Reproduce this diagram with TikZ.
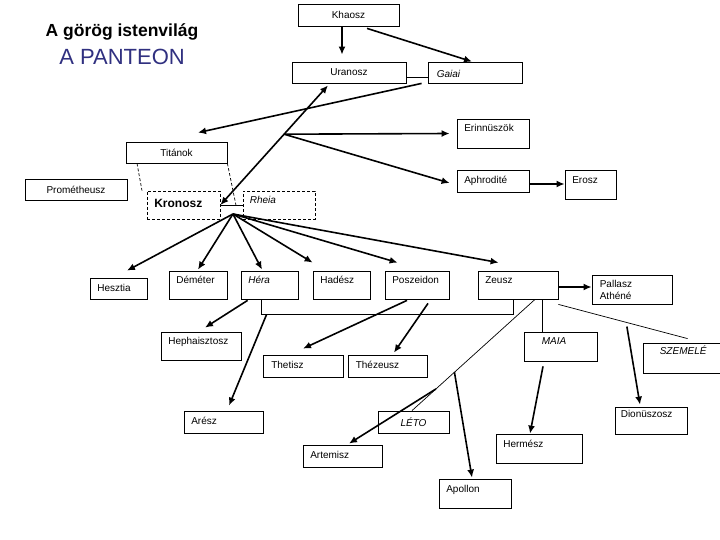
\documentclass[tikz,border=0pt]{standalone}
\usepackage{fontspec}
\setmainfont{Liberation Sans}
\usetikzlibrary{arrows.meta,calc}
\newcommand\fs{\fontsize{10}{12}\selectfont}
\definecolor{titleblue}{RGB}{48,48,128}
\tikzset{
  box/.style={draw, line width=0.8pt, inner sep=0pt, font=\fs},
  dbox/.style={box, dash pattern=on 3pt off 2pt},
  lbl/.style={font=\fs, inner xsep=7.5pt, inner ysep=6pt, text height=7pt, text depth=2pt},
  tl/.style={label={[lbl, anchor=north west]north west:#1}},
  ml/.style={label={[lbl, inner ysep=0pt, anchor=west]west:#1}},
  arr/.style={line width=1.6pt, -{Latex[length=8pt,width=7pt]}},
  arrtwo/.style={line width=1.6pt, {Latex[length=8pt,width=7pt]}-{Latex[length=8pt,width=7pt]}},
  thinline/.style={line width=0.7pt},
  dsh/.style={line width=0.7pt, dash pattern=on 3pt off 2pt},
}
\begin{document}
\begin{tikzpicture}[x=1pt,y=-1pt]
\useasboundingbox (0,0) rectangle (720,540);
% titles
\node[font=\fontsize{17.5}{20}\selectfont\bfseries] (title1) at (122,32) {A görög istenvilág};
\node[font=\fontsize{22}{24}\selectfont, text=titleblue] (title2) at (122,57) {A PANTEON};
% boxes
\node[box, minimum width=101, minimum height=22] (khaosz) at (348.5,15) {Khaosz};
\node[box, minimum width=114, minimum height=21] (uranosz) at (349,72.5) {Uranosz};
\node[box, minimum width=94, minimum height=21,
  label={[lbl, inner ysep=0pt, anchor=west, yshift=-3pt, xshift=1.5pt]west:\itshape Gaiai}] (gaiai) at (475,72.5) {};
\node[box, minimum width=72, minimum height=29, tl=Erinnüszök] (erinnuszok) at (493,133.5) {};
\node[box, minimum width=101, minimum height=21] (titanok) at (176.5,152.5) {Titánok};
\node[box, minimum width=102, minimum height=21] (prometheusz) at (76,189.5) {Prométheusz};
\node[dbox, minimum width=73, minimum height=28,
  label={[inner xsep=7.5pt, inner ysep=0pt, anchor=west, yshift=2pt, font=\fontsize{12}{14}\selectfont\bfseries]west:Kronosz}] (kronosz) at (183.5,205) {};
\node[dbox, minimum width=72, minimum height=28,
  label={[lbl, inner ysep=0pt, inner xsep=7pt, anchor=west, yshift=3.5pt]west:\itshape Rheia}] (rheia) at (279,205) {};
\node[box, minimum width=72, minimum height=22, ml=Aphrodité] (aphrodite) at (493,181) {};
\node[box, minimum width=51, minimum height=29,
  label={[lbl, inner ysep=0pt, anchor=west, yshift=3pt]west:Erosz}] (erosz) at (590.5,184.5) {};
\node[box, minimum width=57, minimum height=21, ml=Hesztia] (hesztia) at (118.5,288.5) {};
\node[box, minimum width=58, minimum height=28, tl=Déméter] (demeter) at (198,285) {};
\node[box, minimum width=57, minimum height=28, tl={\itshape Héra}] (hera) at (269.5,285) {};
\node[box, minimum width=57, minimum height=28, tl=Hadész] (hadesz) at (341.5,285) {};
\node[box, minimum width=64, minimum height=28, tl=Poszeidon] (poszeidon) at (417,285) {};
\node[box, minimum width=80, minimum height=28, tl=Zeusz] (zeusz) at (518,285) {};
\node[box, minimum width=80, minimum height=29,
  label={[font=\fs, align=left, anchor=north west, inner xsep=8pt, inner ysep=5pt]north west:Pallasz\\Athéné}] (pallasz) at (632,289.5) {};
\node[box, minimum width=80, minimum height=28, tl=Hephaisztosz] (hephaisztosz) at (201,346) {};
\node[box, minimum width=80, minimum height=22,
  label={[lbl, inner ysep=0pt, inner xsep=8.5pt, anchor=west]west:Thetisz}] (thetisz) at (303,366) {};
\node[box, minimum width=79, minimum height=22,
  label={[lbl, inner ysep=0pt, inner xsep=8pt, anchor=west]west:Thézeusz}] (thezeusz) at (387.5,366) {};
\node[box, minimum width=73, minimum height=29,
  label={[lbl, anchor=north, xshift=-6.5pt]north:\itshape MAIA}] (maia) at (560.5,346.5) {};
\node[box, minimum width=82, minimum height=30,
  label={[lbl, anchor=north west, inner xsep=17pt, inner ysep=5pt]north west:\itshape SZEMELÉ}] (szemele) at (684,358) {};
\node[box, minimum width=79, minimum height=22, ml=Arész] (ares) at (223.5,422) {};
\node[box, minimum width=71, minimum height=22, font=\fs\itshape] (leto) at (413.5,422) {LÉTO};
\node[box, minimum width=79, minimum height=22, ml=Artemisz] (artemisz) at (342.5,456) {};
\node[box, minimum width=86, minimum height=29,
  label={[lbl, anchor=north west, inner ysep=7pt]north west:Hermész}] (hermesz) at (539,448.5) {};
\node[box, minimum width=72, minimum height=29,
  label={[lbl, anchor=north west, inner ysep=7pt]north west:Apollon}] (apollon) at (475,493.5) {};
\node[box, minimum width=72, minimum height=27,
  label={[lbl, anchor=north west, inner xsep=6pt, inner ysep=4pt]north west:Dionüszosz}] (dionuszosz) at (651,420.5) {};
% connectors: top
\draw[arr] ([xshift=-6.5pt]khaosz.south) -- ([xshift=-7pt,yshift=7pt]uranosz.north);
\draw[arr] ([xshift=18.5pt,yshift=-2pt]khaosz.south) -- ([xshift=-3pt]gaiai.north);
\draw[thinline] ([yshift=-4.5pt]uranosz.east) -- ([yshift=-4.5pt]gaiai.west);
\draw[arr] ([xshift=-6pt]gaiai.south west) -- ([xshift=21.5pt,yshift=9pt]titanok.north);
\coordinate (ua) at ([xshift=-21pt,yshift=-2pt]uranosz.south);
\draw[arrtwo] (ua) -- (kronosz.east);
\coordinate (br) at ($(ua)!0.408!(kronosz.east)$);
\draw[arr] (br) -- ([xshift=-7pt]erinnuszok.west);
\draw[arr] (br) -- ([xshift=-7pt,yshift=-2pt]aphrodite.west);
\draw[arr] ([yshift=-3pt]aphrodite.east) -- ([yshift=-3pt]aphrodite.east -| erosz.west);
% Kronosz - Rheia
\draw[thinline] (kronosz.east) -- (rheia.west);
\coordinate (kr) at ($(kronosz.east)!0.7!(rheia.west)$);
\draw[dsh] ([xshift=-39.5pt]titanok.south) -- ([xshift=-41.5pt]kronosz.north);
\draw[dsh] (titanok.south east) -- (kr);
\coordinate (fan) at ([xshift=-3pt,yshift=-9pt]kr);
\draw[arr] (fan) -- ([xshift=8.5pt,yshift=7pt]hesztia.north);
\draw[arr] (fan) -- ([yshift=1pt]demeter.north);
\draw[arr] (fan) -- ([xshift=-7.5pt,yshift=1pt]hera.north);
\draw[arr] (fan) -- ([yshift=8pt]hadesz.north west);
\draw[arr] (fan) -- ([xshift=13pt,yshift=8pt]poszeidon.north west);
\draw[arr] (fan) -- ([xshift=21pt,yshift=8pt]zeusz.north west);
% Zeusz family
\draw[arr] ([yshift=-2pt]zeusz.east) -- ([yshift=-2pt]zeusz.east -| pallasz.west);
\draw[thinline] ([xshift=21pt]hera.south west) -- ++(0,15) coordinate (ul) -| ([xshift=36pt]zeusz.south west);
\draw[arr] ([xshift=7pt,yshift=-1pt]hera.south west) -- ([xshift=4pt,yshift=4pt]hephaisztosz.north);
\draw[arr] ([xshift=5pt]ul) -- ([xshift=5.5pt,yshift=5pt]ares.north);
\draw[arr] ([xshift=-10pt,yshift=-1pt]poszeidon.south) -- ([yshift=6pt]thetisz.north);
\draw[arr] ([xshift=11pt,yshift=-4pt]poszeidon.south) -- ([xshift=6.5pt,yshift=2pt]thezeusz.north);
\draw[thinline] ([xshift=24pt]zeusz.south) -- ([xshift=24pt]zeusz.south |- maia.north);
\coordinate (zs) at ([yshift=-5pt]zeusz.south east);
\coordinate (sz) at ([xshift=45pt,yshift=4pt]szemele.north west);
\draw[thinline] (zs) -- (sz);
\coordinate (zl) at ([xshift=17pt]zeusz.south);
\coordinate (lt) at ([xshift=-1.5pt]leto.north);
\draw[thinline] (zl) -- (lt);
\coordinate (pa) at ($(zl)!0.655!(lt)$);
\coordinate (pb) at ($(zl)!0.805!(lt)$);
\draw[arr] (pa) -- ([xshift=-3pt,yshift=1pt]apollon.north);
\draw[arr] (pb) -- ([xshift=6.5pt,yshift=1pt]artemisz.north);
\draw[arr] ([xshift=-17.5pt,yshift=-5pt]maia.south) -- ([xshift=-9pt]hermesz.north);
\path ($(zs)!0.53!(sz)$) ++(0,4) coordinate (dz);
\draw[arr] (dz) -- ([xshift=-11pt,yshift=2pt]dionuszosz.north);
\end{tikzpicture}
\end{document}
